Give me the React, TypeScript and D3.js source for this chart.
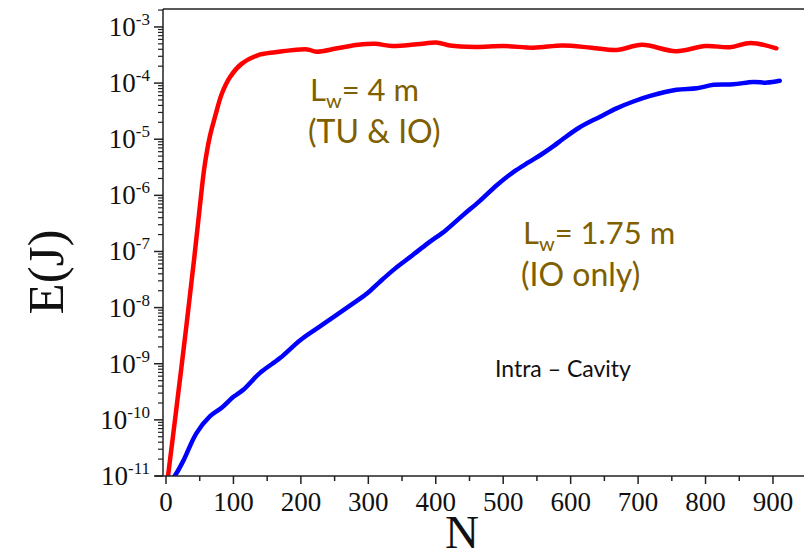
import React from "react";
import * as d3 from "d3";

// ---- data ----
const redN = [3, 15, 30, 42, 50, 57, 65, 73, 83, 95, 112, 135, 162, 190, 210, 223, 254, 285, 310, 335, 372, 403, 421, 458, 501, 545, 588, 631, 668, 706, 756, 800, 836, 867, 905];
const redE = [1.0e-11, 1.45e-10, 4.47e-9, 7.9e-8, 6.0e-7, 3.2e-6, 1.12e-5, 2.6e-5, 6.6e-5, 1.29e-4, 2.2e-4, 3.1e-4, 3.55e-4, 3.9e-4, 3.98e-4, 3.63e-4, 4.17e-4, 4.8e-4, 5.0e-4, 4.57e-4, 4.9e-4, 5.25e-4, 4.68e-4, 4.4e-4, 4.57e-4, 4.27e-4, 4.68e-4, 4.27e-4, 3.9e-4, 4.8e-4, 3.7e-4, 4.57e-4, 4.37e-4, 5.2e-4, 4.17e-4];

const blueN = [9, 14, 26, 45, 65, 83, 100, 115, 139, 169, 199, 224, 253, 278, 298, 317, 340, 365, 390, 415, 440, 465, 490, 515, 538, 557, 575, 588, 613, 643, 668, 693, 718, 757, 787, 812, 841, 871, 891, 910];
const blueE = [8.9e-12, 1.05e-11, 1.9e-11, 5.75e-11, 1.15e-10, 1.66e-10, 2.57e-10, 3.47e-10, 6.8e-10, 1.26e-9, 2.63e-9, 4.27e-9, 7.4e-9, 1.2e-8, 1.78e-8, 2.88e-8, 5.0e-8, 8.5e-8, 1.45e-7, 2.4e-7, 4.4e-7, 7.9e-7, 1.5e-6, 2.6e-6, 3.9e-6, 5.4e-6, 7.6e-6, 1.0e-5, 1.62e-5, 2.5e-5, 3.55e-5, 4.7e-5, 5.9e-5, 7.6e-5, 8.1e-5, 9.3e-5, 9.5e-5, 1.05e-4, 1.02e-4, 1.1e-4];

const xTickValues = [0, 100, 200, 300, 400, 500, 600, 700, 800, 900];
const xMinorValues = [50, 150, 250, 350, 450, 550, 650, 750, 850];
const yExponents = [-11, -10, -9, -8, -7, -6, -5, -4, -3];

const xTitle = "N";
const yTitle = "E(J)";
const ann1 = ["L", "w", "= 4 m", "(TU & IO)"];
const ann2 = ["L", "w", "= 1.75 m", "(IO only)"];
const ann3 = "Intra \u2013 Cavity";

// ---- layout ----
const W = 804;
const H = 558;
const left = 163;
const right = 804;
const top = 9;
const bottom = 476;

const SERIF = "'Liberation Serif', 'Times New Roman', serif";
const SANS = "Lato, 'Open Sans', sans-serif";
const ANN = "#7f6000";
const AXIS = "#222";

export default function App() {
  const x = d3.scaleLinear().domain([-4.45, 946]).range([left, right]);
  const y = d3.scaleLog().domain([1e-11, Math.pow(10, -2.68)]).range([bottom, top]);

  const line = d3
    .line<[number, number]>()
    .x((d) => x(d[0]))
    .y((d) => y(d[1]))
    .curve(d3.curveCatmullRom.alpha(0.5));

  const redPath = line(redN.map((n, i) => [n, redE[i]] as [number, number])) || "";
  const bluePath = line(blueN.map((n, i) => [n, blueE[i]] as [number, number])) || "";

  const minorY: number[] = [];
  yExponents.forEach((e) => {
    for (let m = 2; m <= 9; m++) {
      const v = m * Math.pow(10, e);
      if (v <= y.domain()[1]) minorY.push(v);
    }
  });

  return (
    <svg
      width={W}
      height={H}
      style={{ position: "absolute", left: 0, top: 0, display: "block", background: "#fff" }}
    >
      <defs>
        <clipPath id="plotClip">
          <rect x={left} y={top} width={right - left} height={bottom - top} />
        </clipPath>
      </defs>

      {/* curves */}
      <g clipPath="url(#plotClip)">
        <path d={bluePath} fill="none" stroke="#0000ff" strokeWidth={4.5} strokeLinejoin="round" strokeLinecap="round" />
        <path d={redPath} fill="none" stroke="#ff0000" strokeWidth={4.5} strokeLinejoin="round" strokeLinecap="round" />
      </g>

      {/* frame */}
      <line x1={left} x2={right} y1={top} y2={top} stroke={AXIS} strokeWidth={1.5} />
      <line x1={left} x2={left} y1={top} y2={bottom} stroke={AXIS} strokeWidth={1.5} />
      <line x1={left - 8} x2={right} y1={bottom} y2={bottom} stroke={AXIS} strokeWidth={1.5} />

      {/* y ticks */}
      {yExponents.map((e) => {
        const yy = y(Math.pow(10, e));
        return (
          <g key={"ye" + e}>
            <line x1={left - 9} x2={left} y1={yy} y2={yy} stroke={AXIS} strokeWidth={1.5} />
            <text x={150} y={yy + 9} textAnchor="end" fontFamily={SERIF} fontSize={27} fill="#111">
              <tspan>10</tspan>
              <tspan dy={-11} fontSize={17}>{String(e)}</tspan>
            </text>
          </g>
        );
      })}
      {minorY.map((v, i) => (
        <line key={"ym" + i} x1={left - 5} x2={left} y1={y(v)} y2={y(v)} stroke={AXIS} strokeWidth={1.2} />
      ))}

      {/* x ticks */}
      {xTickValues.map((v) => (
        <g key={"xt" + v}>
          <line x1={x(v)} x2={x(v)} y1={bottom} y2={bottom + 8} stroke={AXIS} strokeWidth={1.5} />
          <text x={x(v)} y={511} textAnchor="middle" fontFamily={SERIF} fontSize={27} fill="#111">
            {v}
          </text>
        </g>
      ))}
      {xMinorValues.map((v) => (
        <line key={"xm" + v} x1={x(v)} x2={x(v)} y1={bottom} y2={bottom + 5} stroke={AXIS} strokeWidth={1.5} />
      ))}

      {/* axis titles */}
      <text x={462} y={548} textAnchor="middle" fontFamily={SERIF} fontSize={47} fill="#111">
        {xTitle}
      </text>
      <text
        transform={`translate(63,272) rotate(-90)`}
        textAnchor="middle"
        fontFamily={SERIF}
        fontSize={51}
        fill="#111"
      >
        {yTitle}
      </text>

      {/* annotations */}
      <text x={310} y={101} fontFamily={SANS} fontSize={31} fill={ANN}>
        <tspan>{ann1[0]}</tspan>
        <tspan dy={7} fontSize={20}>{ann1[1]}</tspan>
        <tspan dy={-7}>{ann1[2]}</tspan>
      </text>
      <text x={308} y={143} fontFamily={SANS} fontSize={32} fill={ANN}>
        {ann1[3]}
      </text>

      <text x={523} y={244} fontFamily={SANS} fontSize={31} fill={ANN}>
        <tspan>{ann2[0]}</tspan>
        <tspan dy={7} fontSize={20}>{ann2[1]}</tspan>
        <tspan dy={-7}>{ann2[2]}</tspan>
      </text>
      <text x={521} y={286} fontFamily={SANS} fontSize={32} fill={ANN}>
        {ann2[3]}
      </text>

      <text x={495} y={377} fontFamily={SANS} fontSize={23} fill="#111">
        {ann3}
      </text>
    </svg>
  );
}
